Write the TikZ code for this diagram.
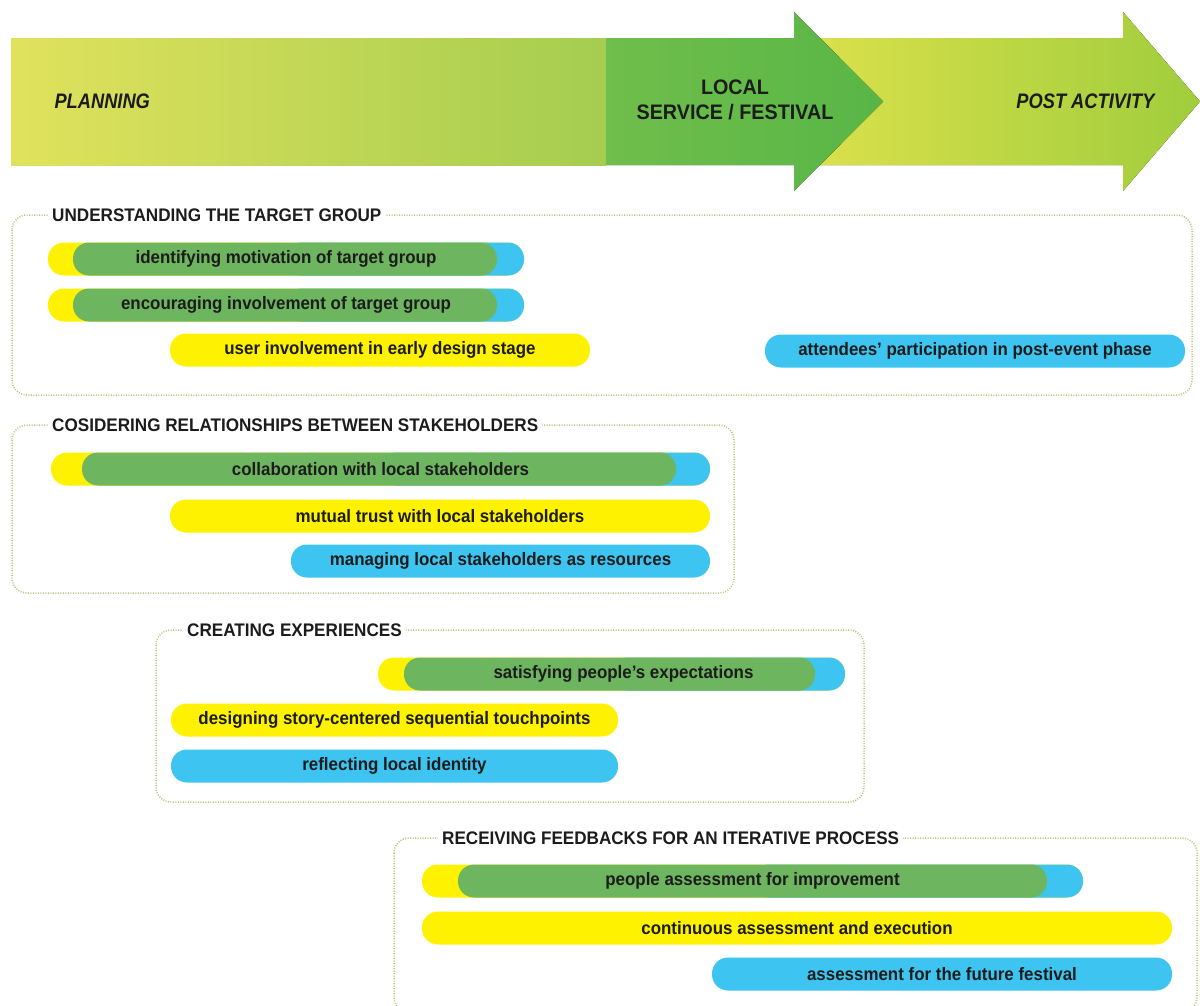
\documentclass[tikz,border=0pt]{standalone}
\usepackage{fontspec}
\setmainfont{Liberation Sans}[FakeStretch=0.94]
\newfontfamily\hditfont{Liberation Sans}[FakeStretch=0.87]
\usepackage{tikz}

\definecolor{barY}{HTML}{FFF200}
\definecolor{barG}{HTML}{6DB55F}
\definecolor{barB}{HTML}{3EC4F0}
\definecolor{arrA1}{HTML}{E0E25C}
\definecolor{arrA2}{HTML}{A5CD50}
\definecolor{arrD1}{HTML}{70BE4B}
\definecolor{arrD2}{HTML}{58B646}
\definecolor{arrB1}{HTML}{D9E04B}
\definecolor{arrB2}{HTML}{A0CD3C}
\definecolor{grpline}{HTML}{BDC07C}
\definecolor{txt}{HTML}{1C1C1C}

\begin{document}
\begin{tikzpicture}
[   x=1pt, y=-1pt,
    pill/.style={rounded corners=16pt, minimum height=33pt, inner sep=0pt},
    bartext/.style={text=txt, font=\fontsize{18}{20}\selectfont\bfseries},
    grpbox/.style={draw=grpline, line width=1.5pt, dash pattern=on 1pt off 1.5pt, rounded corners=15pt},
    grptitle/.style={anchor=west, fill=white, inner xsep=4pt, text=txt, font=\fontsize{18.2}{20}\selectfont\bfseries},
    hdtext/.style={text=txt, font=\fontsize{21}{25}\selectfont\bfseries},
    hdital/.style={text=txt, font=\hditfont\fontsize{21}{25}\selectfont\bfseries\itshape}, ]
    \useasboundingbox (0,0) rectangle (1200,1005);

    \fill[left color=arrB1, right color=arrB2] (820,38) -- (1123,38) -- (1123,12) -- (1200,101.5) -- (1123,191) -- (1123,165) -- (820,165) -- cycle;
    \fill[left color=arrA1, right color=arrA2] (11,38) rectangle (606,165);
    \fill[left color=arrD1, right color=arrD2] (606,38) -- (794,38) -- (794,12) -- (883,101.5) -- (794,191) -- (794,165) -- (606,165) -- cycle;

    \node[hdital, anchor=west] (plan) at (51,101) {PLANNING};
    \node[hdtext, align=center] (serv) at (735,100) {LOCAL\\SERVICE / FESTIVAL};
    \node[hdital, anchor=east] (post) at (1158,101) {POST ACTIVITY};

    \foreach \nm/\xa/\ya/\xe/\ye/\tx/\txt in {g1/12/215/1192/395/48/UNDERSTANDING THE TARGET GROUP,
        g2/12/425/734/593/48/COSIDERING RELATIONSHIPS BETWEEN STAKEHOLDERS,
        g3/156/630/864/802/183/CREATING EXPERIENCES,
        g4/394/838/1197/1012/438/RECEIVING FEEDBACKS FOR AN ITERATIVE PROCESS}
    {
        \draw[grpbox] (\xa,\ya) rectangle (\xe,\ye);
        \node[grptitle] (\nm) at (\tx,\ya) {\txt};
    }

    \foreach \nm/\xa/\xg/\xb/\xe/\y/\dx/\txt in {a1/48/73/497/524/259/0/identifying motivation of target group,
        a2/48/73/497/524/305/0/encouraging involvement of target group,
        b1/51/82/676/710/469/0/collaboration with local stakeholders,
        c1/378/404/815/845/674/12/satisfying people's expectations,
        d1/422/458/1047/1083/881/0/people assessment for improvement}
    {
        \node[pill, fill=barY, minimum width={\xe-\xa}] (y-\nm) at ({(\xa+\xe)/2},\y) {};
        \node[pill, fill=barB, minimum width={(\xe-\xa)/2}] (u-\nm) at ({(\xa+3*\xe)/4},\y) {};
        \node[pill, fill=barG, minimum width={\xb-\xg}] (v-\nm) at ({(\xg+\xb)/2},\y) {};
        \node[bartext] (\nm) at ({(\xa+\xe)/2+\dx},\y) {\txt};
    }

    \foreach \nm/\xa/\xe/\y/\col/\txt in {a3/170/590/350/barY/user involvement in early design stage,
        a4/765/1185/351/barB/attendees' participation in post-event phase,
        b2/170/710/516/barY/mutual trust with local stakeholders,
        b3/291/710/561/barB/managing local stakeholders as resources,
        c2/171/618/720/barY/designing story-centered sequential touchpoints,
        c3/171/618/766/barB/reflecting local identity,
        d2/422/1172/928/barY/continuous assessment and execution,
        d3/712/1172/974/barB/assessment for the future festival}
    {
        \node[pill, bartext, fill=\col, minimum width={\xe-\xa}] (\nm) at ({(\xa+\xe)/2},\y) {\txt};
    }

\end{tikzpicture}
\end{document}
